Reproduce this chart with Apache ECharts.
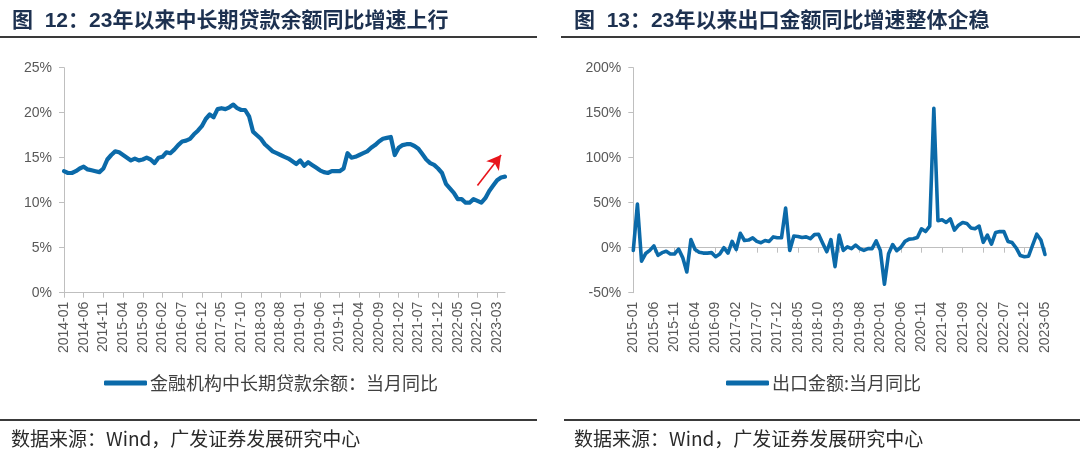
<!DOCTYPE html>
<html><head><meta charset="utf-8">
<script src="https://cdn.jsdelivr.net/npm/echarts@6/dist/echarts.min.js"></script>
<style>html,body{margin:0;padding:0;background:#fff}#c{width:1080px;height:458px}</style>
</head><body><div id="c"></div>
<script>
function monthRange(y0, m0, y1, m1) {
  const out = [];
  let y = y0, m = m0;
  while (y < y1 || (y === y1 && m <= m1)) {
    out.push(y + '-' + (m < 10 ? '0' + m : '' + m));
    m++; if (m > 12) { m = 1; y++; }
  }
  return out;
}

// Left chart: 金融机构中长期贷款余额：当月同比 (%), 2014-01 .. 2023-05
const loanMonths = monthRange(2014, 1, 2023, 5);
const loanYoY = [
  13.5, 13.3, 13.3, 13.5, 13.8, 14.0, 13.7, 13.6, 13.5, 13.4,
  13.8, 14.8, 15.3, 15.7, 15.6, 15.3, 15.0, 14.7, 14.9, 14.7,
  14.8, 15.0, 14.8, 14.4, 15.0, 15.1, 15.6, 15.5, 15.9, 16.4,
  16.8, 16.9, 17.1, 17.6, 18.0, 18.5, 19.3, 19.8, 19.5, 20.4,
  20.5, 20.4, 20.6, 20.9, 20.5, 20.3, 20.3, 19.6, 17.9, 17.5,
  17.1, 16.5, 16.1, 15.7, 15.5, 15.3, 15.1, 14.9, 14.6, 14.3,
  14.7, 14.1, 14.5, 14.2, 13.9, 13.6, 13.4, 13.3, 13.5, 13.5,
  13.5, 13.8, 15.5, 15.0, 15.1, 15.3, 15.5, 15.7, 16.1, 16.4,
  16.8, 17.1, 17.2, 17.3, 15.3, 16.1, 16.4, 16.5, 16.5, 16.3,
  16.0, 15.4, 14.8, 14.4, 14.2, 13.8, 13.3, 12.1, 11.6, 11.1,
  10.4, 10.4, 10.0, 10.0, 10.4, 10.2, 10.0, 10.5, 11.3, 11.9,
  12.5, 12.8, 12.9
];
const loanTicks = [0, 5, 10, 15, 20, 25];
const loanArrowFrom = ['2022-10', 11.9];
const loanArrowTo = ['2023-04', 15.3];

// Right chart: 出口金额:当月同比 (%), 2015-01 .. 2023-05
const exportMonths = monthRange(2015, 1, 2023, 5);
const exportYoY = [
  -3, 48.5, -15, -6.5, -3, 2, -8.5, -5.5, -4, -7,
  -7, -1.5, -11, -27, 9, -2, -5, -6, -6, -5.5,
  -10, -7, 0, -6, 7, -2, 16, 8, 8.5, 11,
  7, 5.5, 8, 7, 12, 11, 11, 44, -3, 13,
  12.5, 11.3, 12, 10, 14.5, 15, 5, -4.5, 9, -21,
  14, -3, 1, -1, 3, -1, -3, -1, -1, 7.5,
  -3, -40.6, -6.6, 3.5, -3.3, 0.5, 7, 9.5, 9.9, 11.4,
  21, 18, 24, 155, 30, 31, 28, 32, 19.5, 25,
  28, 27, 22, 21, 24, 6, 14, 3.9, 16.9, 17.9,
  18, 7, 5.7, -0.3, -8.7, -10, -9.5, 3, 15, 8.5,
  -7.5
];
const exportTicks = [-50, 0, 50, 100, 150, 200];

const titleLeft = '图  12：23年以来中长期贷款余额同比增速上行';
const titleRight = '图  13：23年以来出口金额同比增速整体企稳';
const legendLeft = '金融机构中长期贷款余额：当月同比';
const legendRight = '出口金额:当月同比';
const sourceText = '数据来源：Wind，广发证券发展研究中心';

const LINE = '#0b6aa9';
const AXIS = '#bfbfbf';
const LABEL = '#595959';
const latin = '"Liberation Sans", Arial, "Noto Sans CJK SC", sans-serif';
const cjk = '"Noto Sans CJK SC", "Liberation Sans", sans-serif';

function yAxisFor(grid, ticks) {
  return {
    type: 'value', gridIndex: grid,
    min: ticks[0], max: ticks[ticks.length - 1], interval: ticks[1] - ticks[0],
    axisLine: { show: true, lineStyle: { color: AXIS, width: 1 } },
    axisTick: { show: true, length: 5, lineStyle: { color: AXIS } },
    splitLine: { show: false },
    axisLabel: { formatter: '{value}%', color: LABEL, fontSize: 14, margin: 12, fontFamily: latin }
  };
}
const xLabel = { interval: 4, rotate: 90, color: LABEL, fontSize: 14, margin: 9, fontFamily: latin };

const chart = echarts.init(document.getElementById('c'), null, { renderer: 'canvas' });
chart.setOption({
  animation: false,
  backgroundColor: '#fff',
  title: [
    { text: titleLeft, left: 12, top: 11, padding: 0,
      textStyle: { fontSize: 21, fontWeight: 'bold', color: '#1d3150', fontFamily: latin } },
    { text: titleRight, left: 574, top: 11, padding: 0,
      textStyle: { fontSize: 21, fontWeight: 'bold', color: '#1d3150', fontFamily: latin } }
  ],
  legend: [
    { data: [legendLeft], left: 104, top: 374, padding: 0, icon: 'roundRect',
      itemWidth: 43, itemHeight: 5, itemGap: 4,
      textStyle: { fontSize: 18, color: '#404040', fontFamily: cjk, padding: [0, 0, 0, -2] } },
    { data: [legendRight], left: 726, top: 374, padding: 0, icon: 'roundRect',
      itemWidth: 43, itemHeight: 5, itemGap: 4,
      textStyle: { fontSize: 18, color: '#404040', fontFamily: cjk, padding: [0, 0, 0, -2] } }
  ],
  grid: [
    { left: 64, right: 575, top: 67.7, bottom: 165.3 },
    { left: 633.3, right: 35, top: 67.7, bottom: 165.3 }
  ],
  xAxis: [
    { type: 'category', gridIndex: 0, data: loanMonths, boundaryGap: false,
      axisLine: { lineStyle: { color: AXIS, width: 1 } },
      axisTick: { show: true, interval: 4, length: 5, lineStyle: { color: AXIS } },
      axisLabel: xLabel },
    { type: 'category', gridIndex: 1, data: exportMonths, boundaryGap: false, position: 'bottom',
      axisLine: { show: false, onZero: false },
      axisTick: { show: false },
      axisLabel: xLabel },
    { type: 'category', gridIndex: 1, data: exportMonths, boundaryGap: false, position: 'top',
      axisLine: { show: true, onZero: true, lineStyle: { color: AXIS, width: 1 } },
      axisTick: { show: true, inside: true, interval: 4, length: 5, lineStyle: { color: AXIS } },
      axisLabel: { show: false } }
  ],
  yAxis: [ yAxisFor(0, loanTicks), yAxisFor(1, exportTicks) ],
  series: [
    { name: legendLeft, type: 'line', xAxisIndex: 0, yAxisIndex: 0, data: loanYoY,
      showSymbol: false, symbol: 'none', color: LINE,
      lineStyle: { width: 4.2, color: LINE, cap: 'round', join: 'round' },
      markLine: {
        silent: true, symbol: ['none', 'arrow'], symbolSize: [12, 14],
        label: { show: false },
        lineStyle: { color: '#e8141b', width: 1.6, type: 'solid' },
        data: [[ { coord: loanArrowFrom }, { coord: loanArrowTo } ]]
      } },
    { name: legendRight, type: 'line', xAxisIndex: 1, yAxisIndex: 1, data: exportYoY,
      showSymbol: false, symbol: 'none', color: LINE,
      lineStyle: { width: 3.6, color: LINE, cap: 'round', join: 'round' } }
  ],
  graphic: [
    { type: 'line', shape: { x1: 0, y1: 37, x2: 537, y2: 37 }, style: { stroke: '#3a3a3a', lineWidth: 2 } },
    { type: 'line', shape: { x1: 561, y1: 37, x2: 1080, y2: 37 }, style: { stroke: '#3a3a3a', lineWidth: 2 } },
    { type: 'line', shape: { x1: 0, y1: 420, x2: 537, y2: 420 }, style: { stroke: '#3a3a3a', lineWidth: 2 } },
    { type: 'line', shape: { x1: 564, y1: 420, x2: 1080, y2: 420 }, style: { stroke: '#3a3a3a', lineWidth: 2 } },
    { type: 'text', left: 11, top: 429, style: { text: sourceText, fill: '#2a2a2a', font: '19px ' + cjk } },
    { type: 'text', left: 574, top: 429, style: { text: sourceText, fill: '#2a2a2a', font: '19px ' + cjk } }
  ]
});
</script>
</body></html>
